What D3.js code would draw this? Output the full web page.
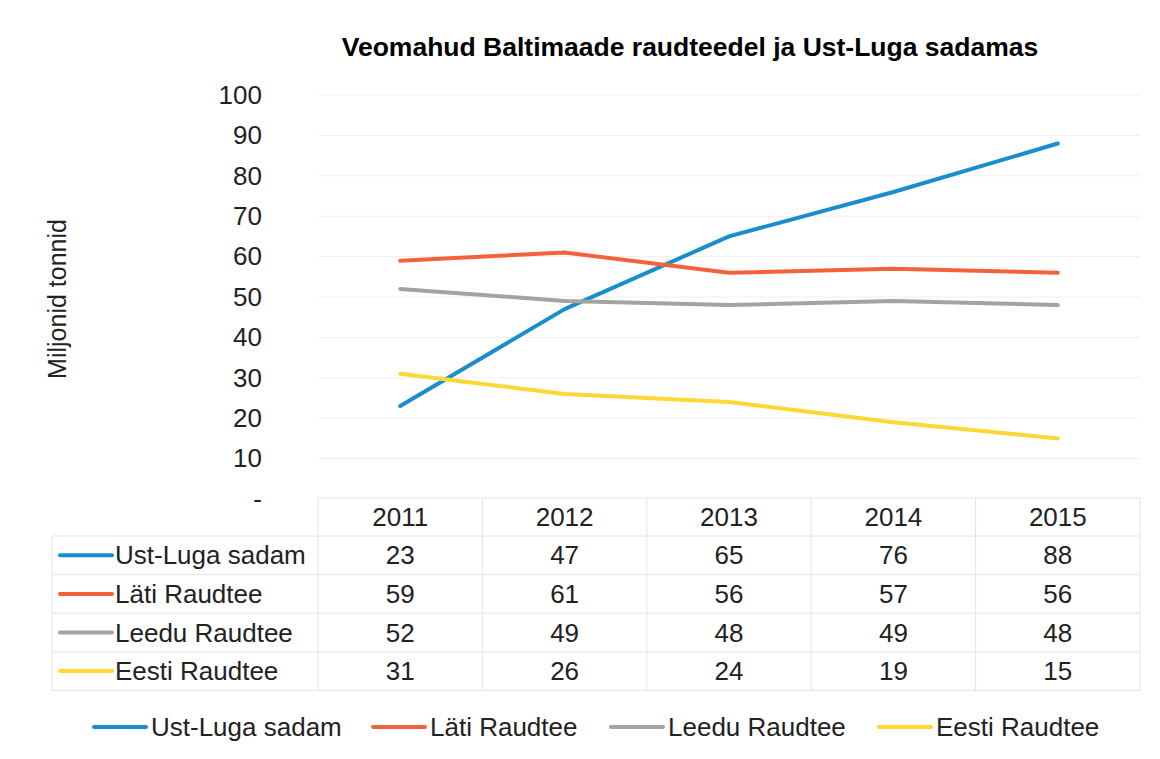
<!DOCTYPE html>
<html>
<head>
<meta charset="utf-8">
<script src="https://cdn.jsdelivr.net/npm/d3@7"></script>
<style>
  body { margin: 0; background: #fff; }
  svg { font-family: "Liberation Sans", Arial, sans-serif; }
</style>
</head>
<body>
<div id="chart"></div>
<script>
const years = ["2011", "2012", "2013", "2014", "2015"];
const seriesNames = ["Ust-Luga sadam", "Läti Raudtee", "Leedu Raudtee", "Eesti Raudtee"];
const ustLuga = [23, 47, 65, 76, 88];
const latvia = [59, 61, 56, 57, 56];
const lithuania = [52, 49, 48, 49, 48];
const estonia = [31, 26, 24, 19, 15];
const yTicks = [0, 10, 20, 30, 40, 50, 60, 70, 80, 90, 100];
const colors = ["#1a8dcc", "#f4623c", "#a3a3a3", "#fdd835"];

const series = seriesNames.map((name, i) => ({
  name: name,
  color: colors[i],
  values: [ustLuga, latvia, lithuania, estonia][i]
}));

const fs = "26px";
const svg = d3.select("#chart").append("svg").attr("width", 1160).attr("height", 759);

const x = d3.scaleBand().domain(years).range([318, 1140]);
const y = d3.scaleLinear().domain([0, 100]).range([499, 95]);

// title
svg.append("text")
  .attr("x", 690).attr("y", 56)
  .attr("text-anchor", "middle")
  .style("font-size", "26.5px").style("font-weight", "bold")
  .text("Veomahud Baltimaade raudteedel ja Ust-Luga sadamas");

// gridlines
svg.append("g").selectAll("line")
  .data(yTicks.filter(d => d > 0))
  .enter().append("line")
  .attr("x1", 318).attr("x2", 1140)
  .attr("y1", d => y(d)).attr("y2", d => y(d))
  .attr("stroke", "#efefef").attr("stroke-width", 1);

// y axis
const yAxis = svg.append("g")
  .attr("transform", "translate(268,0)")
  .call(d3.axisLeft(y).tickValues(yTicks).tickSize(0).tickPadding(6)
    .tickFormat(d => d === 0 ? "-" : d));
yAxis.select(".domain").remove();
yAxis.selectAll("text")
  .style("font-size", fs).style("fill", "#222")
  .style("font-family", "Liberation Sans, Arial, sans-serif");

svg.append("text")
  .attr("transform", "translate(66,299) rotate(-90)")
  .attr("text-anchor", "middle")
  .style("font-size", "25px").style("fill", "#222")
  .text("Miljonid tonnid");

// lines
const line = d3.line()
  .x((d, i) => x(years[i]) + x.bandwidth() / 2)
  .y(d => y(d));

svg.append("g").selectAll("path")
  .data(series)
  .enter().append("path")
  .attr("d", d => line(d.values))
  .attr("fill", "none")
  .attr("stroke", d => d.color)
  .attr("stroke-width", 4)
  .attr("stroke-linecap", "round")
  .attr("stroke-linejoin", "round");

// data table
const tableTop = 498, headH = 38, rowH = 38.6, tableLeft = 52;
const rowY = i => tableTop + headH + i * rowH;
const tbl = svg.append("g").attr("stroke", "#e4e4e4").attr("stroke-width", 1);

// horizontal rules
d3.range(series.length + 1).forEach(i => {
  tbl.append("line")
    .attr("x1", tableLeft).attr("x2", 1140)
    .attr("y1", rowY(i)).attr("y2", rowY(i));
});
tbl.append("line")
  .attr("x1", 318).attr("x2", 1140)
  .attr("y1", tableTop).attr("y2", tableTop);
// vertical rules
years.concat(["end"]).forEach((yr, i) => {
  const xx = i < years.length ? x(yr) : x.range()[1];
  tbl.append("line")
    .attr("x1", xx).attr("x2", xx)
    .attr("y1", tableTop).attr("y2", rowY(series.length));
});
tbl.append("line")
  .attr("x1", tableLeft).attr("x2", tableLeft)
  .attr("y1", rowY(0)).attr("y2", rowY(series.length));

// header
svg.append("g").selectAll("text")
  .data(years)
  .enter().append("text")
  .attr("x", d => x(d) + x.bandwidth() / 2)
  .attr("y", tableTop + headH / 2 + 9)
  .attr("text-anchor", "middle")
  .style("font-size", fs).style("fill", "#222")
  .text(d => d);

// rows
const rows = svg.append("g").selectAll("g")
  .data(series)
  .enter().append("g");

rows.append("line")
  .attr("x1", 60).attr("x2", 112)
  .attr("y1", (d, i) => rowY(i) + rowH / 2)
  .attr("y2", (d, i) => rowY(i) + rowH / 2)
  .attr("stroke", d => d.color).attr("stroke-width", 4)
  .attr("stroke-linecap", "round");

rows.append("text")
  .attr("x", 115)
  .attr("y", (d, i) => rowY(i) + rowH / 2 + 9)
  .style("font-size", fs).style("fill", "#222")
  .text(d => d.name);

rows.each(function(s, i) {
  d3.select(this).selectAll("text.val")
    .data(s.values)
    .enter().append("text")
    .attr("class", "val")
    .attr("x", (d, j) => x(years[j]) + x.bandwidth() / 2)
    .attr("y", rowY(i) + rowH / 2 + 9)
    .attr("text-anchor", "middle")
    .style("font-size", fs).style("fill", "#222")
    .text(d => d);
});

// bottom legend
const legendX = [94, 373, 611, 879];
const legend = svg.append("g").selectAll("g")
  .data(series)
  .enter().append("g")
  .attr("transform", (d, i) => `translate(${legendX[i]},727)`);

legend.append("line")
  .attr("x1", 0).attr("x2", 52)
  .attr("stroke", d => d.color).attr("stroke-width", 4)
  .attr("stroke-linecap", "round");

legend.append("text")
  .attr("x", 57).attr("y", 9)
  .style("font-size", fs).style("fill", "#222")
  .text(d => d.name);
</script>
</body>
</html>
